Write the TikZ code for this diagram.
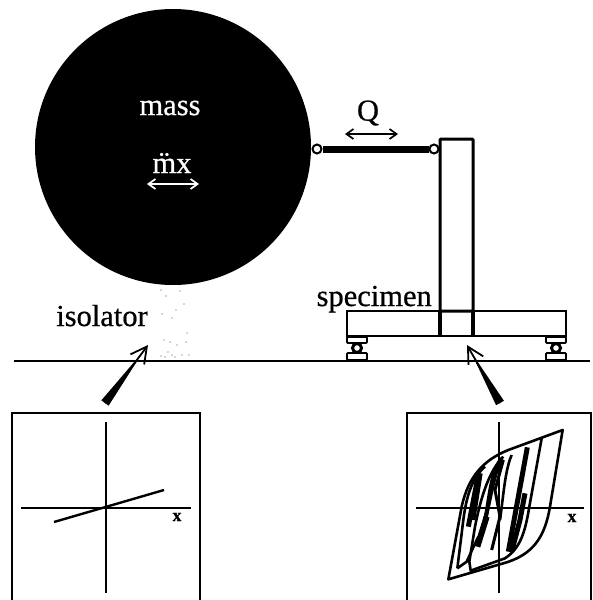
\documentclass[tikz,border=0pt]{standalone}
\usepackage{fontspec}
\setmainfont{Liberation Serif}[FakeBold=0.6]
\usetikzlibrary{arrows.meta, calc}

\tikzset{
    label text/.style={font=\fontsize{30.5}{32}\selectfont, inner sep=0pt},
    plot box/.style={draw, line width=2.2pt},
    plot axis/.style={line width=1.5pt},
    plot label/.style={font=\fontsize{18}{18}\selectfont\bfseries, inner sep=0pt},
    pin/.style={circle, draw, fill=white, line width=2pt, inner sep=0pt, minimum size=9pt},
    pad/.style={draw, fill=white, line width=1.8pt, rounded corners=1pt},
    loop/.style={line width=2.6pt, line join=round},
    double arrow/.style={{Straight Barb[length=7pt,width=10pt]}-{Straight Barb[length=7pt,width=10pt]}, line width=1.7pt}
}

\begin{document}
\begin{tikzpicture}[x=1pt, y=-1pt]
\useasboundingbox (0,0) rectangle (593,600);

% mass
\node[circle, fill=black, minimum size=276pt, inner sep=0pt] (mass) at (173,147) {};
\node[label text, text=white] (masslabel) at (170,108) {mass};
\node[label text, text=white] (accellabel) at (172,163) {\"mx};
\coordinate (accelL) at (147,184);
\coordinate (accelR) at (199,184);
\draw[double arrow, white] (accelL) -- (accelR);

% link
\node[pin] (pinL) at (317,149) {};
\node[pin] (pinR) at (434,149) {};
\draw[line width=7pt] (pinL) -- (pinR);
\node[label text] (force) at (368,113) {Q};
\coordinate (forceL) at (345,134);
\coordinate (forceR) at (398,134);
\draw[double arrow] (forceL) -- (forceR);

% specimen
\node[draw, line width=3pt, minimum width=33pt, minimum height=172pt, inner sep=0pt, rounded corners=1pt] (column) at (456.5,225) {};
\node[draw, line width=2pt, minimum width=219pt, minimum height=25pt, inner sep=0pt] (base) at (456.5,323.5) {};
\draw[line width=3.2pt] (440,311) -- (440,336);
\draw[line width=3.2pt] (473,311) -- (473,336);
\node[label text, anchor=base east] (specimenlabel) at (432,306) {specimen};

% bearings
\foreach \bx/\bname in {357/L, 556/R} {
    \node[pad, minimum width=20pt, minimum height=6pt, inner sep=0pt] (top\bname) at (\bx,340) {};
    \node[circle, draw, fill=white, line width=3pt, minimum size=9pt, inner sep=0pt] (ball\bname) at (\bx,348) {};
    \node[pad, minimum width=20pt, minimum height=7pt, inner sep=0pt] (bottom\bname) at (\bx,356.5) {};
}

% ground
\coordinate (groundL) at (14,361);
\coordinate (groundR) at (590,361);
\draw[line width=2.2pt] (groundL) -- (groundR);

% isolator
\node[label text, anchor=base] (isolatorlabel) at (102,326) {isolator};
\foreach \sx/\sy in {161/290, 166/296, 180/291, 184/304, 176/310, 162/314, 172/318, 187/333, 164/340, 170/342, 177/345, 186/342, 161/356, 168/352, 175/357, 182/355, 189/355, 172/355, 165/357}
    \fill[black!70] (\sx,\sy) circle (0.6pt);

% isolator plot
\draw[plot box] (12,600) -- (12,413) -- (200,413) -- (200,600);
\coordinate (isoW) at (21,508);
\coordinate (isoE) at (191,508);
\coordinate (isoN) at (106,422);
\coordinate (isoS) at (106,593);
\draw[plot axis] (isoW) -- (isoE);
\draw[plot axis] (isoN) -- (isoS);
\draw[line width=2.4pt] (54,522) -- (164,490);
\node[plot label] (isox) at (177,517) {x};

% specimen plot
\draw[plot box] (407,600) -- (407,413) -- (591,413) -- (591,600);
\coordinate (speW) at (416,508);
\coordinate (speE) at (584,508);
\coordinate (speN) at (499,422);
\coordinate (speS) at (499,593);
\draw[plot axis] (speW) -- (speE);
\draw[plot axis] (speN) -- (speS);
\node[plot label] (spex) at (572,518) {x};
\begin{scope}[shift={(440,420)}, x=0.3333pt, y=-0.3333pt]
    \draw[loop] (368,30) -- (330,260) .. controls (315,350) and (280,405) .. (190,430) -- (25,478)
        -- (65,260) .. controls (85,170) and (130,120) .. (205,90) -- cycle;
    \draw[loop] (305,55) -- (268,260) .. controls (255,340) and (240,385) .. (195,415) -- (92,452) -- (88,425)
        -- (105,320) .. controls (125,220) and (150,150) .. (190,110);
    \draw[loop] (52,445) -- (70,300) .. controls (80,220) and (100,170) .. (135,140);
    \draw[loop] (52,445) -- (80,425) -- (115,350);
    \draw[loop, line width=5pt] (205,395) -- (262,82);
    \draw[loop, line width=5pt] (215,395) -- (240,300) -- (255,220);
    \draw[loop, line width=5pt] (85,320) -- (115,165);
    \draw[loop, line width=4pt] (100,300) -- (122,160);
    \draw[loop, line width=6pt] (112,380) -- (140,290);
    \draw[loop, line width=4pt] (125,345) .. controls (150,260) and (145,170) .. (185,115);
    \draw[loop, line width=4pt] (135,300) .. controls (150,240) and (160,170) .. (178,130);
    \draw[loop, line width=3pt] (155,390) -- (180,290) -- (165,210) -- (190,120);
    \draw[loop] (215,105) .. controls (195,150) and (190,230) .. (180,300);
\end{scope}

% arrows
\coordinate (isoTail) at (105,403);
\coordinate (isoTip) at (148,345);
\coordinate (speTail) at (500,403);
\coordinate (speTip) at (467,345);
\foreach \tl/\tp in {isoTail/isoTip, speTail/speTip} {
    \fill ($(\tl)!4.5pt!90:(\tp)$) -- ($(\tl)!4.5pt!-90:(\tp)$) -- ($(\tp)!8pt!(\tl)$) -- cycle;
    \draw[-{Straight Barb[length=16pt,width=17pt]}, line width=1.8pt] (\tl) -- (\tp);
}

\end{tikzpicture}
\end{document}
